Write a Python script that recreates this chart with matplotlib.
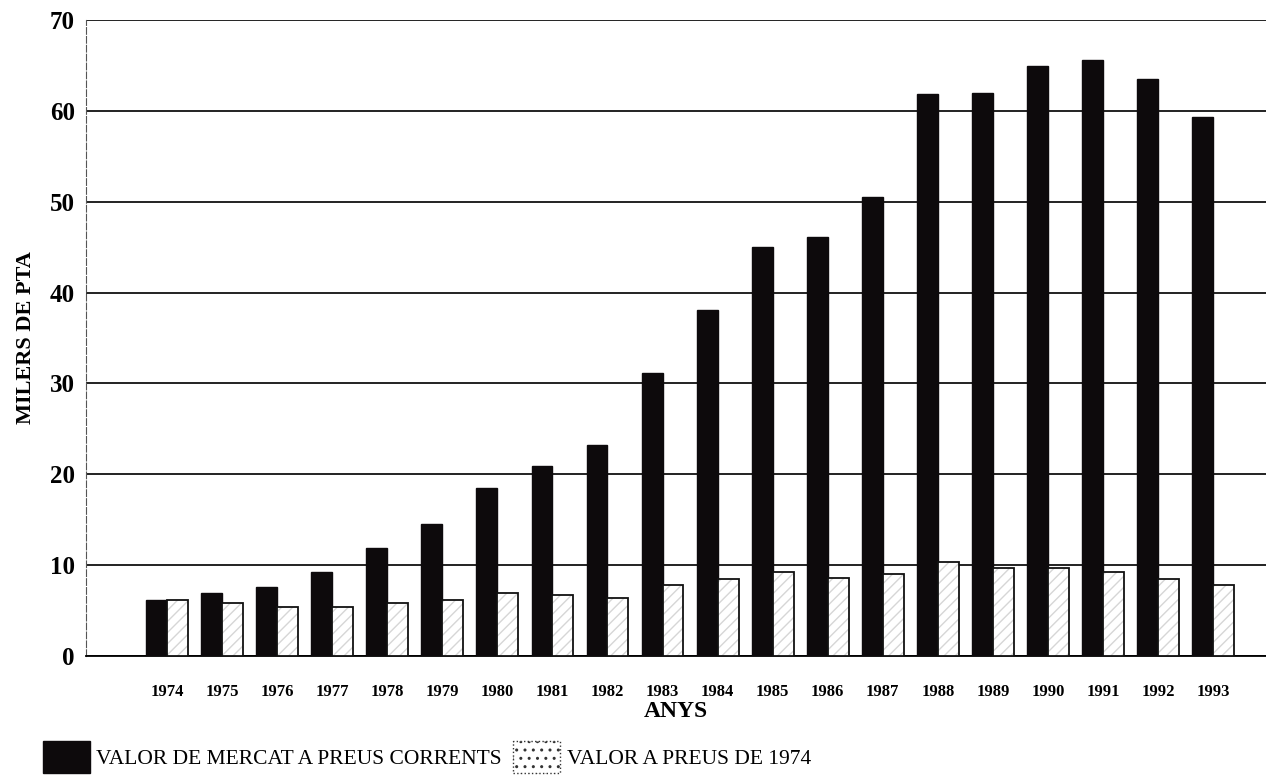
"""
Valor de mercat vs valor a preus de 1974 (milers de pta), 1974-1993
"""
import numpy as np
import matplotlib
matplotlib.use('Agg')
import matplotlib.pyplot as plt
from matplotlib.patches import Patch

years = [1974, 1975, 1976, 1977, 1978, 1979, 1980, 1981, 1982, 1983,
         1984, 1985, 1986, 1987, 1988, 1989, 1990, 1991, 1992, 1993]
valor_corrent = [6.2, 6.9, 7.6, 9.2, 11.9, 14.5, 18.5, 20.9, 23.2, 31.1,
                 38.1, 45.0, 46.1, 50.5, 61.8, 62.0, 64.9, 65.6, 63.5, 59.3]
valor_1974 = [6.2, 5.8, 5.4, 5.4, 5.8, 6.2, 6.9, 6.7, 6.4, 7.8,
              8.5, 9.2, 8.6, 9.0, 10.4, 9.7, 9.7, 9.2, 8.5, 7.8]
yticks = [0, 10, 20, 30, 40, 50, 60, 70]

plt.rcParams['font.family'] = ['Liberation Serif', 'DejaVu Serif']

fig = plt.figure(figsize=(12.66, 7.77), dpi=100)
ax = fig.add_axes([0.068, 0.1557, 0.932, 0.8186])

x = np.arange(len(years))
w = 0.38
ax.bar(x - w/2, valor_corrent, w, color='#0d0a0c', edgecolor='#0d0a0c', zorder=3)
# light bars: faint hatch underneath, black outline on top
ax.bar(x + w/2, valor_1974, w, color='white', edgecolor='#d6d6d6', hatch='///',
       linewidth=0, zorder=3)
ax.bar(x + w/2, valor_1974, w, fill=False, edgecolor='#111111', linewidth=1.3, zorder=4)

ax.set_ylim(0, 70)
ax.set_xlim(-1.47, 19.96)
ax.set_yticks(yticks)
ax.set_yticklabels([str(t) for t in yticks], fontsize=18, fontweight='bold')
ax.set_xticks(x)
ax.set_xticklabels([str(y) for y in years], fontsize=12, fontweight='bold')
ax.tick_params(axis='both', length=0)
ax.tick_params(axis='x', pad=20)
ax.tick_params(axis='y', pad=8)
ax.yaxis.grid(True, color='#111111', linewidth=1.3, zorder=1)
for s in ['top', 'right']:
    ax.spines[s].set_visible(False)
ax.spines['bottom'].set_linewidth(1.3)
ax.spines['left'].set_linewidth(0.8)
ax.spines['left'].set_color('#555555')
ax.spines['left'].set_linestyle((0, (6, 2)))
ax.set_ylabel('MILERS DE PTA', fontsize=16, fontweight='bold', labelpad=10)
ax.set_xlabel('ANYS', fontsize=17, fontweight='bold', labelpad=1)

handles = [Patch(facecolor='#0d0a0c', edgecolor='#0d0a0c'),
           Patch(facecolor='white', edgecolor='#333333', linestyle=':', hatch='..')]
fig.legend(handles, ['VALOR DE MERCAT A PREUS CORRENTS', 'VALOR A PREUS DE 1974'],
           loc='lower left', bbox_to_anchor=(0.02, -0.017), ncol=2, frameon=False,
           fontsize=15.5, handlelength=2.2, handleheight=1.9, handletextpad=0.3,
           columnspacing=0.5, borderpad=0.3)

fig.savefig('out.png', dpi=100)
